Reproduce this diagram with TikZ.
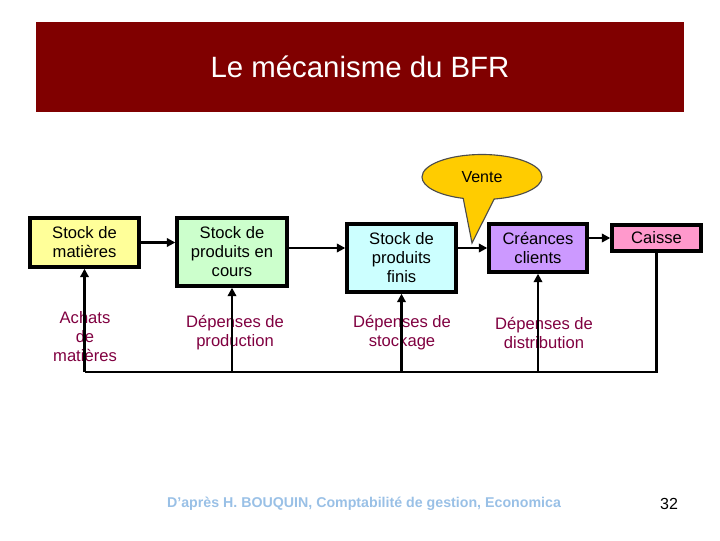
\documentclass[tikz,border=0pt]{standalone}
\usepackage{fontspec}
\setmainfont{Liberation Sans}
\usetikzlibrary{shapes.callouts,arrows.meta}
\definecolor{rougetitre}{HTML}{800000}
\definecolor{jaunemat}{HTML}{FFFF99}
\definecolor{vertcours}{HTML}{CCFFCC}
\definecolor{cyanfinis}{HTML}{CCFFFF}
\definecolor{violetcli}{HTML}{CC99FF}
\definecolor{rosecaisse}{HTML}{FF99CC}
\definecolor{orvente}{HTML}{FFCC00}
\definecolor{bordeaux}{HTML}{800040}
\definecolor{bleusource}{HTML}{99C0E6}
\tikzset{
  boite/.style={draw=black,line width=2.4pt,align=center,inner sep=0pt,
    font=\fontsize{11.8}{13.5}\selectfont},
  etiquette/.style={text=bordeaux,align=center,inner sep=0pt,
    font=\fontsize{11.8}{13.5}\selectfont},
  flux/.style={line width=2pt,-{Triangle[length=6pt,width=6pt]}},
  trait/.style={line width=2pt}
}
\begin{document}
\begin{tikzpicture}[x=0.025cm,y=-0.025cm]
	\useasboundingbox (0,0) rectangle (720,540);
	% bandeau du titre
	\node[fill=rougetitre,minimum width=16.2cm,minimum height=2.25cm,inner sep=0pt,
		text=white,font=\fontsize{20.9}{24}\selectfont] (titre) at (360,67) {Le mécanisme du BFR};
	% les stocks et la caisse
	\node[boite,fill=jaunemat,minimum width=2.725cm,minimum height=1.225cm] (mat) at (84.5,242.5) {Stock de\\matières};
	\node[boite,fill=vertcours,minimum width=2.75cm,minimum height=1.7cm] (cours) at (232,252) {Stock de\\produits en\\cours};
	\node[boite,fill=cyanfinis,minimum width=2.725cm,minimum height=1.7cm] (finis) at (401.5,258) {Stock de\\produits\\finis};
	\node[boite,fill=violetcli,minimum width=2.45cm,minimum height=1.2cm] (creances) at (538,248) {Créances\\clients};
	\node[boite,fill=rosecaisse,minimum width=2.225cm,minimum height=0.65cm] (caisse) at (656.5,238) {Caisse};
	% les dépenses
	\node[etiquette] (achats) at (85,337) {Achats\\de\\matières};
	\node[etiquette] (prod) at (235,333) {Dépenses de\\production};
	\node[etiquette] (stockage) at (402,333) {Dépenses de\\stockage};
	\node[etiquette] (distrib) at (544,333) {Dépenses de\\distribution};
	\coordinate (bas) at (0,372);
	% flux
	\draw[flux] (mat.east) -- (mat.east -| cours.west);
	\draw[flux] ([yshift=0.1cm]cours.east) -- ([yshift=0.1cm]cours.east -| finis.west);
	\draw[flux] (finis.east |- creances.west) -- (creances.west);
	\draw[flux] (creances.east |- caisse.west) -- (caisse.west);
	\draw[trait] (caisse.south) -- (caisse.south |- bas) -- (mat.south |- bas);
	\draw[flux] (mat.south |- bas) -- (mat.south);
	\draw[flux] (cours.south |- bas) -- (cours.south);
	\draw[flux] (finis.south |- bas) -- (finis.south);
	\draw[flux] (creances.south |- bas) -- (creances.south);
	% la bulle
	\node[ellipse callout,callout absolute pointer={(472,243)},callout pointer arc=30,
		fill=orvente,draw=black!70,line width=0.8pt,minimum width=3cm,minimum height=1.125cm,
		inner sep=0pt,font=\fontsize{11.4}{13}\selectfont] (vente) at (482,177) {Vente};
	% pied de page
	\node[text=bleusource,font=\bfseries\fontsize{10.1}{12}\selectfont] (source) at (364,504) {D’après H. BOUQUIN, Comptabilité de gestion, Economica};
	\node[font=\fontsize{11.4}{13}\selectfont] (page) at (669,504) {32};
\end{tikzpicture}
\end{document}
